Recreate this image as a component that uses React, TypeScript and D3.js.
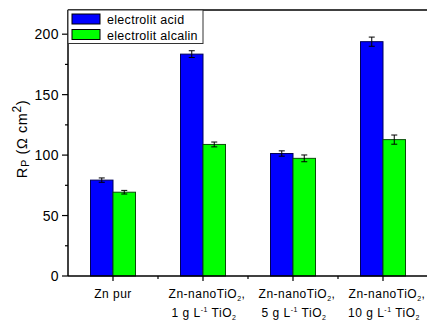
import React from "react";
import * as d3 from "d3";

const categories = ["Zn pur", "1 g", "5 g", "10 g"];
const seriesNames = ["electrolit acid", "electrolit alcalin"];
const acidValues = [79.3, 183.5, 101.3, 193.8];
const alcalinValues = [69.3, 108.8, 97.3, 112.8];
const acidErrors = [1.8, 2.8, 2.2, 3.8];
const alcalinErrors = [1.5, 2.0, 2.8, 3.8];
const yTicks = [0, 50, 100, 150, 200];
const yMinorTicks = [25, 75, 125, 175];
const seriesColors = ["#0000ff", "#00ff00"];
const seriesStrokes = ["#00005a", "#0b4d0b"];

const W = 427;
const H = 323;
const L = 68;
const R = 428;
const T = 10;
const B = 276;
const FONT = "'Liberation Sans', Arial, Helvetica, sans-serif";

export default function App() {
  const x0 = d3.scaleBand<string>().domain(categories).range([L, R]).padding(0);
  const x1 = d3.scaleBand<string>().domain(seriesNames).range([0, x0.bandwidth() / 2]).padding(0);
  const y = d3.scaleLinear().domain([0, 220]).range([B, T]);
  const values = [acidValues, alcalinValues];
  const errors = [acidErrors, alcalinErrors];

  const center = (c: string) => (x0(c) as number) + x0.bandwidth() / 2;
  const minorX = categories.map((c) => x0(c) as number).slice(1);

  return (
    <svg width={W} height={H} style={{ position: "absolute", left: 0, top: 0, background: "#fff" }} fontFamily={FONT}>
      <rect x={0} y={0} width={W} height={H} fill="#fff" />
      {/* bars */}
      {categories.map((c, ci) =>
        seriesNames.map((s, si) => {
          const bx = center(c) - x0.bandwidth() / 4 + (x1(s) as number);
          const v = values[si][ci];
          const e = errors[si][ci];
          const cx = bx + x1.bandwidth() / 2;
          return (
            <g key={c + s}>
              <rect x={bx} y={y(v)} width={x1.bandwidth()} height={B - y(v)} fill={seriesColors[si]} stroke={seriesStrokes[si]} strokeWidth={1} />
              <line x1={cx} x2={cx} y1={y(v + e)} y2={y(v - e)} stroke="#000" strokeWidth={1} />
              <line x1={cx - 3} x2={cx + 3} y1={y(v + e)} y2={y(v + e)} stroke="#000" strokeWidth={1} />
              <line x1={cx - 3} x2={cx + 3} y1={y(v - e)} y2={y(v - e)} stroke="#000" strokeWidth={1} />
            </g>
          );
        })
      )}
      {/* frame */}
      <line x1={L} x2={R} y1={T} y2={T} stroke="#000" strokeWidth={1.5} />
      <line x1={L} x2={L} y1={T} y2={B} stroke="#000" strokeWidth={1.5} />
      <line x1={L} x2={R} y1={B} y2={B} stroke="#000" strokeWidth={1.5} />
      {/* y ticks */}
      {yTicks.map((t) => (
        <g key={"y" + t}>
          <line x1={L - 6} x2={L} y1={y(t)} y2={y(t)} stroke="#000" strokeWidth={1.2} />
          <text x={59} y={y(t) + 5} textAnchor="end" fontSize={14} letterSpacing={0.4} fill="#000">{t}</text>
        </g>
      ))}
      {yMinorTicks.map((t) => (
        <line key={"ym" + t} x1={L - 3} x2={L} y1={y(t)} y2={y(t)} stroke="#000" strokeWidth={1.2} />
      ))}
      {/* x ticks */}
      {categories.map((c) => (
        <line key={"xt" + c} x1={center(c)} x2={center(c)} y1={B} y2={B + 5} stroke="#000" strokeWidth={1.2} />
      ))}
      {minorX.map((mx, i) => (
        <line key={"xm" + i} x1={mx} x2={mx} y1={B} y2={B + 3} stroke="#000" strokeWidth={1.2} />
      ))}
      {/* x labels */}
      {categories.map((c, ci) =>
        ci === 0 ? (
          <text key={"xl" + c} x={center(c)} y={298} textAnchor="middle" fontSize={12} letterSpacing={0.5} fill="#000">{c}</text>
        ) : (
          <g key={"xl" + c}>
            <text x={center(c) + 4} y={298} textAnchor="middle" fontSize={12} letterSpacing={0.5} fill="#000">
              Zn-nanoTiO<tspan fontSize={7} dy={3}>2</tspan><tspan dy={-3}>,</tspan>
            </text>
            <text x={center(c) + 1} y={317} textAnchor="middle" fontSize={12} letterSpacing={0.5} fill="#000">
              {c} L<tspan fontSize={7} dy={-5}>-1</tspan><tspan dy={5}> TiO</tspan><tspan fontSize={7} dy={3}>2</tspan>
            </text>
          </g>
        )
      )}
      {/* y label */}
      <text transform="translate(27,139) rotate(-90)" textAnchor="middle" fontSize={14.5} letterSpacing={0.6} fill="#000">
        R<tspan fontSize={11} dy={1.5}>P</tspan><tspan dy={-1.5}> (Ω cm</tspan><tspan fontSize={12} dy={-6}>2</tspan><tspan dy={6}>)</tspan>
      </text>
      {/* legend */}
      <rect x={L} y={T} width={135} height={33.5} fill="#fff" stroke="#333" strokeWidth={1} />
      {seriesNames.map((s, si) => (
        <g key={"lg" + s}>
          <rect x={72} y={14 + si * 15.5} width={28} height={10} fill={seriesColors[si]} stroke="#000" strokeWidth={1} />
          <text x={107} y={24 + si * 15.5} fontSize={12.5} letterSpacing={0.3} fill="#000">{s}</text>
        </g>
      ))}
    </svg>
  );
}
